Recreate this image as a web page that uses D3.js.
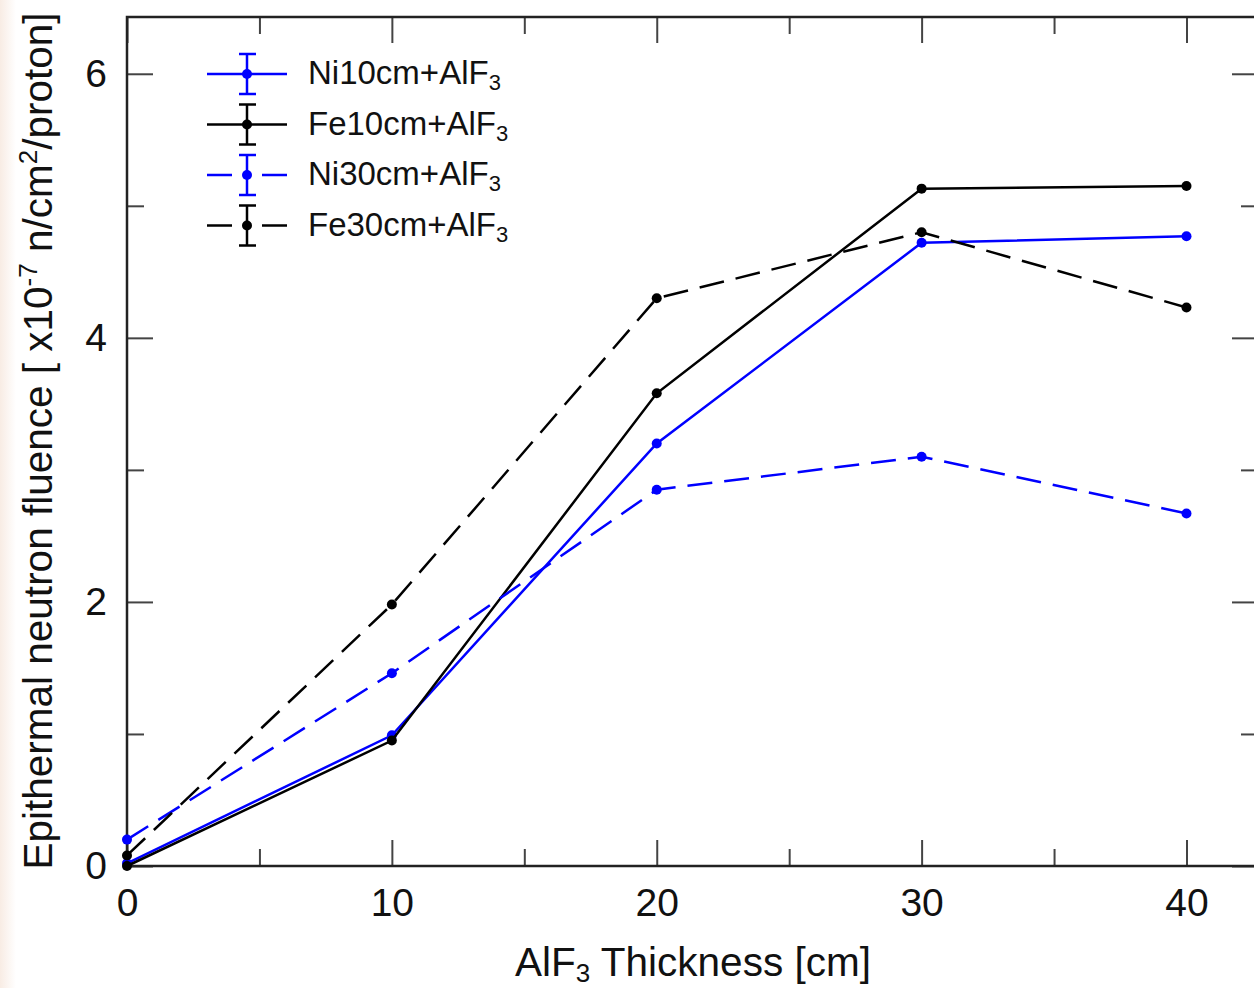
<!DOCTYPE html>
<html>
<head>
<meta charset="utf-8">
<script src="https://cdn.jsdelivr.net/npm/d3@7"></script>
<style>
  body { margin: 0; background: #fff; }
  svg text { font-family: "Liberation Sans", Arial, sans-serif; fill: #111; }
</style>
</head>
<body>
<svg id="chart"></svg>
<script>
WIDTH = 1254;
HEIGHT = 988;
MARGIN = { top: 17, right: -4, bottom: 122, left: 127 };

// AlF3 thickness [cm]
var thickness = [0, 10, 20, 30, 40];

// fluence in units of 1e-7 n/cm2/proton
var ni10 = [0.02, 0.99, 3.20, 4.72, 4.77];
var fe10 = [0.00, 0.95, 3.58, 5.13, 5.15];
var ni30 = [0.20, 1.46, 2.85, 3.10, 2.67];
var fe30 = [0.08, 1.98, 4.30, 4.80, 4.23];

var seriesNames = ["Ni10cm+AlF", "Fe10cm+AlF", "Ni30cm+AlF", "Fe30cm+AlF"];
var seriesValues = [ni10, fe10, ni30, fe30];
var seriesColors = ["#0000ff", "#000000", "#0000ff", "#000000"];
var seriesDashed = [false, false, true, true];

var xMajor = [0, 10, 20, 30, 40];
var xMinor = [5, 15, 25, 35];
var yMajor = [0, 2, 4, 6];
var yMinor = [1, 3, 5];

function main() {
    var svg = d3.select("#chart").attr("width", WIDTH).attr("height", HEIGHT);
    var w = WIDTH - MARGIN.left - MARGIN.right;
    var h = HEIGHT - MARGIN.top - MARGIN.bottom;

    // faint tint along the left edge of the scan
    var grad = svg.append("defs").append("linearGradient").attr("id", "edge");
    grad.append("stop").attr("offset", "0%").attr("stop-color", "#f8ece4");
    grad.append("stop").attr("offset", "100%").attr("stop-color", "#ffffff");
    svg.append("rect").attr("width", 16).attr("height", HEIGHT).attr("fill", "url(#edge)");

    var x = d3.scaleLinear().domain([0, 42.7]).range([0, w]);
    var y = d3.scaleLinear().domain([0, 6.43]).range([h, 0]);

    var g = svg.append("g")
        .attr("transform", "translate(" + MARGIN.left + "," + MARGIN.top + ")");

    drawFrame(g, x, y, w, h);
    drawSeries(g, x, y);
    drawLegend(g);
    drawLabels(svg);
}

function drawFrame(g, x, y, w, h) {
    var major = 26, minor = 17;
    // ticks pointing inward on all four sides
    g.append("g").attr("transform", "translate(0," + h + ")")
        .call(d3.axisBottom(x).tickValues(xMajor).tickSize(-major).tickPadding(22))
        .call(styleAxis);
    g.append("g").attr("transform", "translate(0," + h + ")")
        .call(d3.axisBottom(x).tickValues(xMinor).tickSize(-minor).tickFormat(""))
        .call(styleAxis);
    g.append("g")
        .call(d3.axisTop(x).tickValues(xMajor).tickSize(-major).tickFormat(""))
        .call(styleAxis);
    g.append("g")
        .call(d3.axisTop(x).tickValues(xMinor).tickSize(-minor).tickFormat(""))
        .call(styleAxis);
    g.append("g")
        .call(d3.axisLeft(y).tickValues(yMajor).tickSize(-major).tickPadding(20).tickFormat(d3.format("d")))
        .call(styleAxis);
    g.append("g")
        .call(d3.axisLeft(y).tickValues(yMinor).tickSize(-minor).tickFormat(""))
        .call(styleAxis);
    g.append("g").attr("transform", "translate(" + w + ",0)")
        .call(d3.axisRight(y).tickValues(yMajor).tickSize(-major).tickFormat(""))
        .call(styleAxis);
    g.append("g").attr("transform", "translate(" + w + ",0)")
        .call(d3.axisRight(y).tickValues(yMinor).tickSize(-minor).tickFormat(""))
        .call(styleAxis);

    g.append("rect")
        .attr("width", w).attr("height", h)
        .attr("fill", "none")
        .attr("stroke", "#222")
        .attr("stroke-width", 2.5);
}

function styleAxis(sel) {
    sel.select(".domain").remove();
    sel.selectAll(".tick line").attr("stroke", "#444").attr("stroke-width", 2);
    sel.selectAll(".tick text")
        .style("font-size", "39px")
        .attr("fill", "#111");
}

function drawSeries(g, x, y) {
    var line = d3.line()
        .x(function(d) { return x(d[0]); })
        .y(function(d) { return y(d[1]); });

    for (var i = 0; i < seriesValues.length; i++) {
        var pts = thickness.map(function(t, j) { return [t, seriesValues[i][j]]; });
        g.append("path")
            .attr("d", line(pts))
            .attr("fill", "none")
            .attr("stroke", seriesColors[i])
            .attr("stroke-width", 2.5)
            .attr("stroke-dasharray", seriesDashed[i] ? "25,12" : null);
        g.selectAll(".dot-" + i)
            .data(pts)
            .enter().append("circle")
            .attr("class", "dot-" + i)
            .attr("cx", function(d) { return x(d[0]); })
            .attr("cy", function(d) { return y(d[1]); })
            .attr("r", 5)
            .attr("fill", seriesColors[i]);
    }
}

function drawLegend(g) {
    var x0 = 80, y0 = 57, step = 50.5;
    for (var i = 0; i < seriesNames.length; i++) {
        var item = g.append("g")
            .attr("transform", "translate(" + x0 + "," + (y0 + i * step) + ")");
        var c = seriesColors[i];
        item.append("line")
            .attr("x1", 0).attr("x2", 80)
            .attr("stroke", c).attr("stroke-width", 2.5)
            .attr("stroke-dasharray", seriesDashed[i] ? "25,30" : null);
        item.append("line")
            .attr("x1", 40).attr("x2", 40).attr("y1", -20).attr("y2", 20)
            .attr("stroke", c).attr("stroke-width", 2.5);
        [-20, 20].forEach(function(cy) {
            item.append("line")
                .attr("x1", 32).attr("x2", 49).attr("y1", cy).attr("y2", cy)
                .attr("stroke", c).attr("stroke-width", 2.5);
        });
        item.append("circle").attr("cx", 40).attr("r", 5).attr("fill", c);
        var t = item.append("text")
            .attr("x", 101).attr("y", 10)
            .style("font-size", "33px");
        t.append("tspan").text(seriesNames[i]);
        t.append("tspan").text("3").attr("dy", 6).style("font-size", "22px");
    }
}

function drawLabels(svg) {
    var xl = svg.append("text")
        .attr("x", 693)
        .attr("y", 976)
        .attr("text-anchor", "middle")
        .style("font-size", "40.5px");
    xl.append("tspan").text("AlF");
    xl.append("tspan").text("3").attr("dy", 6).style("font-size", "26px");
    xl.append("tspan").text(" Thickness [cm]").attr("dy", -6);

    var yl = svg.append("text")
        .attr("transform", "translate(52,441) rotate(-90)")
        .attr("text-anchor", "middle")
        .style("font-size", "40.5px");
    yl.append("tspan").text("Epithermal neutron fluence [ x10");
    yl.append("tspan").text("-7").attr("dy", -15).style("font-size", "26px");
    yl.append("tspan").text(" n/cm").attr("dy", 15);
    yl.append("tspan").text("2").attr("dy", -15).style("font-size", "26px");
    yl.append("tspan").text("/proton]").attr("dy", 15);
}

main();
</script>
</body>
</html>
